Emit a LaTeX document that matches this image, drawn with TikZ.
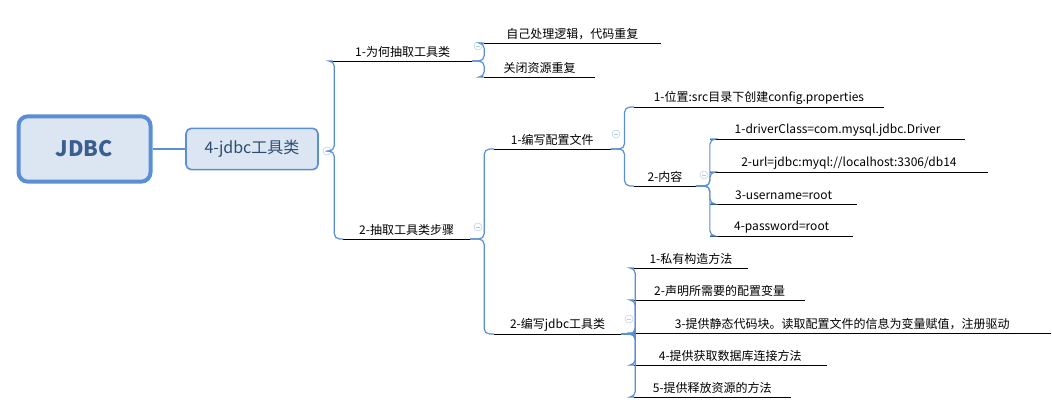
\documentclass[tikz,border=0pt]{standalone}
\usepackage{fontspec}
\setmainfont{Noto Sans CJK SC}
\usepackage{tikz}
\definecolor{mapblue}{HTML}{5B8FD5}
\definecolor{mapfill}{HTML}{DCE6F2}
\definecolor{maptext}{HTML}{3A5F8F}
\tikzset{
  branch/.style={draw=mapblue,line width=0.9pt,rounded corners=4pt},
  topic/.style={anchor=south west,inner sep=0pt,minimum height=13pt,font=\fontsize{9}{11}\selectfont,
    append after command={[line width=2pt,draw=mapblue] (\tikzlastnode.south west) edge (\tikzlastnode.south east)}},
  fold/.style={circle,draw=mapblue!45,inner sep=0pt,minimum size=6pt,
    path picture={\draw[mapblue!45,line width=0.5pt] ([xshift=-1.5pt]path picture bounding box.center) -- ([xshift=1.5pt]path picture bounding box.center);}}
}
\begin{document}
\begin{tikzpicture}[x=0.75pt,y=-0.75pt]
\useasboundingbox (0,0) rectangle (1052,413);
% central topic
\node[draw=mapblue,line width=3pt,fill=mapfill,rounded corners=7pt,minimum width=99pt,minimum height=49pt,
  font=\fontsize{16}{18}\selectfont\bfseries,text=maptext] (jdbc) at (84.5,149) {JDBC};
\node[draw=mapblue,line width=1.2pt,fill=mapfill,rounded corners=4pt,minimum width=99pt,minimum height=31pt,
  font=\fontsize{12}{14}\selectfont,text=maptext!80!black] (tool) at (252,149) {4-jdbc工具类};
\draw[branch] (jdbc.east) -- (tool.west);
\node[fold] (ftool) at (327,151) {};

% level 1
\node[topic,minimum width=104pt] (why) at (333,61) {1-为何抽取工具类};
\node[topic,minimum width=95pt] (steps) at (343,239) {2-抽取工具类步骤};
\node[fold] (fwhy) at (478,46) {};
\node[fold] (fsteps) at (478,227) {};
\draw[branch] (ftool.east) -- ++(3,0) |- (why.south west);
\draw[branch] (ftool.east) -- ++(3,0) |- (steps.south west);

% why
\node[topic,minimum width=132pt] (self) at (484,43) {自己处理逻辑，代码重复};
\node[topic,minimum width=83pt] (close) at (484,77) {关闭资源重复};
\draw[branch] (why.south east) -- ++(12,0) |- (self.south west);
\draw[branch] (why.south east) -- ++(12,0) |- (close.south west);

% steps
\node[topic,minimum width=87pt] (conf) at (494,149) {1-编写配置文件};
\node[topic,minimum width=95pt] (util) at (494,334) {2-编写jdbc工具类};
\node[fold] (fconf) at (616,134) {};
\node[fold] (futil) at (629,319) {};
\draw[branch] (steps.south east) -- ++(14,0) |- (conf.south west);
\draw[branch] (steps.south east) -- ++(14,0) |- (util.south west);

% config file
\node[topic,minimum width=187pt] (pos) at (634,107) {1-位置:src目录下创建config.properties};
\node[topic,minimum width=46pt] (cont) at (634,186) {2-内容};
\node[fold] (fcont) at (704,175) {};
\draw[branch] (conf.south east) -- ++(14,0) |- (pos.south west);
\draw[branch] (conf.south east) -- ++(14,0) |- (cont.south west);

% content
\node[topic,minimum width=191pt] (drv) at (710,139) {1-driverClass=com.mysql.jdbc.Driver};
\node[topic,minimum width=208pt] (url) at (710,172) {2-url=jdbc:myql://localhost:3306/db14};
\node[topic,minimum width=110pt] (user) at (710,204) {3-username=root};
\node[topic,minimum width=107pt] (pwd) at (710,236) {4-password=root};
\foreach \n in {drv,url,user,pwd}
  \draw[branch] (cont.south east) -- ++(14,0) |- (\n.south west);

% jdbc util
\node[topic,minimum width=85pt] (u1) at (634,268) {1-私有构造方法};
\node[topic,minimum width=128pt] (u2) at (634,300) {2-声明所需要的配置变量};
\node[topic,minimum width=312pt] (u3) at (634,333) {3-提供静态代码块。读取配置文件的信息为变量赋值，注册驱动};
\node[topic,minimum width=144pt] (u4) at (634,365) {4-提供获取数据库连接方法};
\node[topic,minimum width=117pt] (u5) at (634,397) {5-提供释放资源的方法};
\foreach \n in {u1,u2,u3,u4,u5}
  \draw[branch] (util.south east) -- ++(14,0) |- (\n.south west);
\end{tikzpicture}
\end{document}
